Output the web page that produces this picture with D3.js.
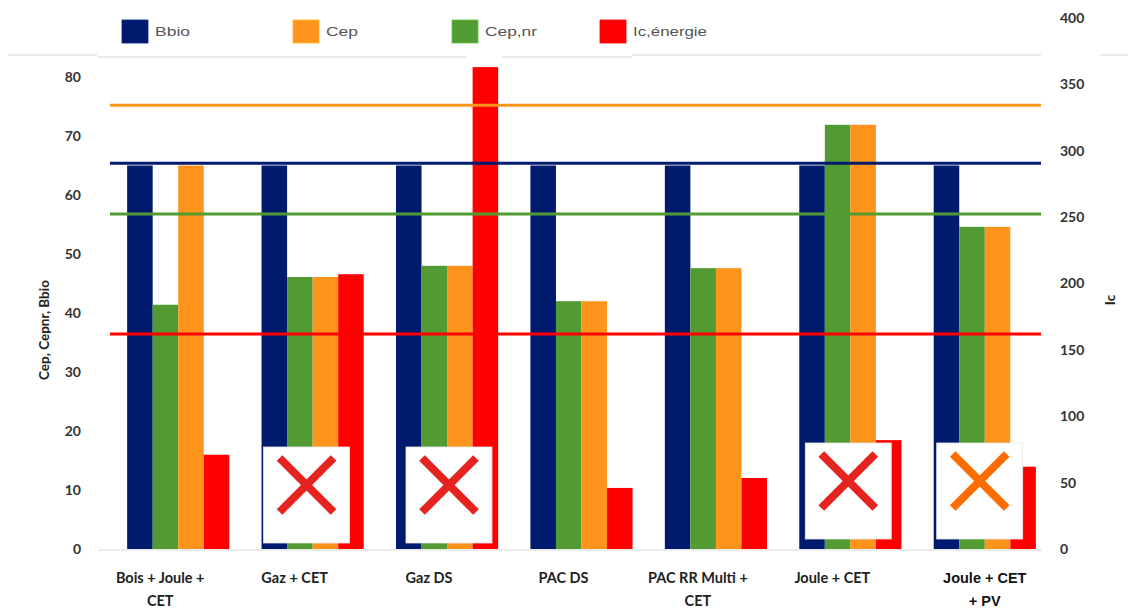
<!DOCTYPE html>
<html>
<head>
<meta charset="utf-8">
<script src="https://cdn.jsdelivr.net/npm/d3@7"></script>
<style>
  html, body { margin: 0; padding: 0; background: #fff; }
  svg { display: block; }
</style>
</head>
<body>
<svg id="chart" width="1128" height="612"></svg>
<script>
// ---------------- DATA ----------------
const categories = [
  ["Bois + Joule +", "CET"],
  ["Gaz + CET"],
  ["Gaz DS"],
  ["PAC DS"],
  ["PAC RR Multi +", "CET"],
  ["Joule + CET"],
  ["Joule + CET", "+ PV"]
];
const seriesNames = ["Bbio", "Cep,nr", "Cep", "Ic,énergie"];
const legendOrder = ["Bbio", "Cep", "Cep,nr", "Ic,énergie"];
const bbio   = [65, 65, 65, 65, 65, 65, 65];
const cepnr  = [41.4, 46.1, 48.0, 42.0, 47.6, 71.9, 54.6];
const cep    = [65.0, 46.1, 48.0, 42.0, 47.6, 71.9, 54.6];
const ic     = [71, 207, 363, 46, 53.5, 82, 62];       // right axis
// thresholds (max values)
const thrCep = 75.2, thrBbio = 65.4, thrCepnr = 56.8; // left axis
const thrIc = 162;                                     // right axis
// flagged (crossed) solutions
const flags = [null, "red", "red", null, null, "red", "orange"];
const leftTicks = [0, 10, 20, 30, 40, 50, 60, 70, 80];
const rightTicks = [0, 50, 100, 150, 200, 250, 300, 350, 400];

// ---------------- STYLE ----------------
const colors = { "Bbio": "#001a6e", "Cep": "#ff941c", "Cep,nr": "#519b32", "Ic,énergie": "#ff0000" };
const crossColors = { red: "#e52420", orange: "#ff6d00" };
const svg = d3.select("#chart");
const plotTop = 18, plotBottom = 549;

const x = d3.scaleBand().domain(d3.range(categories.length))
  .range([111, 1052]).paddingInner(0.24).paddingOuter(0.12);
const xs = d3.scaleBand().domain(seriesNames).range([0, x.bandwidth()]);
const yL = d3.scaleLinear().domain([0, 90]).range([plotBottom, plotTop]);
const yR = d3.scaleLinear().domain([0, 400]).range([plotBottom, plotTop]);

// top separator lines
const g0 = svg.append("g").attr("stroke", "#e4e4e4").attr("stroke-width", 1.5);
[[8, 97, 55], [97, 467, 57], [502, 632, 57], [632, 1041, 55], [1100, 1128, 55]].forEach(s =>
  g0.append("line").attr("x1", s[0]).attr("x2", s[1]).attr("y1", s[2]).attr("y2", s[2]));

// baseline
svg.append("line").attr("x1", 98).attr("x2", 1042)
  .attr("y1", plotBottom + 1).attr("y2", plotBottom + 1)
  .attr("stroke", "#d9d9d9").attr("stroke-width", 1.2);

// bars
const rows = categories.map((c, i) => ({
  i, vals: [
    { s: "Bbio", y: yL(bbio[i]) },
    { s: "Cep,nr", y: yL(cepnr[i]) },
    { s: "Cep", y: yL(cep[i]) },
    { s: "Ic,énergie", y: yR(ic[i]) }
  ]
}));
const gg = svg.append("g").selectAll("g").data(rows).join("g")
  .attr("transform", d => `translate(${x(d.i)},0)`);
gg.selectAll("rect").data(d => d.vals).join("rect")
  .attr("x", d => xs(d.s))
  .attr("width", xs.bandwidth())
  .attr("y", d => Math.max(d.y, plotTop))
  .attr("height", d => plotBottom - Math.max(d.y, plotTop))
  .attr("fill", d => colors[d.s]);

// threshold lines
const lineX0 = 110, lineX1 = 1041;
[[yL(thrCep), colors["Cep"]], [yL(thrBbio), colors["Bbio"]],
 [yL(thrCepnr), colors["Cep,nr"]], [yR(thrIc), colors["Ic,énergie"]]].forEach(([yy, c]) =>
  svg.append("line").attr("x1", lineX0).attr("x2", lineX1).attr("y1", yy).attr("y2", yy)
    .attr("stroke", c).attr("stroke-width", 3));

// crossed boxes
const boxShift = [0, 2, 10, 0, 0, 6, 3];
const boxTop = [0, 447, 447, 0, 0, 443, 443];
flags.forEach((f, i) => {
  if (!f) return;
  const bx = x(i) + boxShift[i], by = boxTop[i], bw = 86, bh = 96;
  svg.append("rect").attr("x", bx).attr("y", by).attr("width", bw).attr("height", bh)
    .attr("fill", "#fff").attr("stroke", "#e6e6e6").attr("stroke-width", 0.8);
  const cx = bx + bw / 2, cy = by + bh / 2 - 10, r = 27;
  const gX = svg.append("g").attr("stroke", crossColors[f]).attr("stroke-width", 8).attr("stroke-linecap", "butt");
  gX.append("line").attr("x1", cx - r).attr("y1", cy - r).attr("x2", cx + r).attr("y2", cy + r);
  gX.append("line").attr("x1", cx + r).attr("y1", cy - r).attr("x2", cx - r).attr("y2", cy + r);
});

// left axis
const axL = svg.append("g").attr("transform", "translate(81,0)")
  .call(d3.axisLeft(yL).tickValues(leftTicks).tickSize(0).tickPadding(0));
axL.select(".domain").remove();
axL.selectAll("text").attr("font-family", "Lato, 'Open Sans', sans-serif")
  .attr("font-weight", "bold").attr("font-size", 14).attr("fill", "#333");

// right axis
const axR = svg.append("g").attr("transform", "translate(1060,0)")
  .call(d3.axisRight(yR).tickValues(rightTicks).tickSize(0).tickPadding(0));
axR.select(".domain").remove();
axR.selectAll("text").attr("font-family", "Lato, 'Open Sans', sans-serif")
  .attr("font-weight", "bold").attr("font-size", 14).attr("fill", "#333");

// axis titles
svg.append("text").attr("transform", "translate(49,330) rotate(-90)")
  .attr("text-anchor", "middle").attr("font-family", "Lato, 'Open Sans', sans-serif")
  .attr("font-weight", "bold").attr("font-size", 13.5).attr("fill", "#222")
  .text("Cep, Cepnr, Bbio");
svg.append("text").attr("transform", "translate(1115,300) rotate(-90)")
  .attr("text-anchor", "middle").attr("font-family", "Lato, 'Open Sans', sans-serif")
  .attr("font-weight", "bold").attr("font-size", 13.5).attr("fill", "#222")
  .text("Ic");

// category labels
categories.forEach((lines, i) => {
  const last = i === categories.length - 1;
  const cx = x(i) + x.bandwidth() / 2 + (last ? 0 : -18);
  const t = svg.append("text").attr("text-anchor", "middle")
    .attr("font-family", last ? "'Liberation Sans', Arial, sans-serif" : "Lato, 'Open Sans', sans-serif")
    .attr("font-weight", "bold").attr("font-size", last ? 14.5 : 14.5)
    .attr("fill", last ? "#111" : "#222");
  lines.forEach((l, k) => t.append("tspan").attr("x", cx).attr("y", 583 + k * 23).text(l));
});

// legend
const legX = [122, 293, 452, 600];
const legLen = { "Bbio": 35, "Cep": 32, "Cep,nr": 52, "Ic,énergie": 74 };
legendOrder.forEach((s, k) => {
  const g = svg.append("g").attr("transform", `translate(${legX[k]},20)`);
  g.append("rect").attr("width", 26).attr("height", 23).attr("fill", colors[s])
    .attr("stroke", d3.color(colors[s]).brighter(0.6)).attr("stroke-width", 0.8);
  g.append("text").attr("x", 33).attr("y", 16).attr("font-family", "'Liberation Sans', Arial, sans-serif")
    .attr("font-size", 12.5).attr("fill", "#555")
    .attr("textLength", legLen[s]).attr("lengthAdjust", "spacingAndGlyphs").text(s);
});
</script>
</body>
</html>
